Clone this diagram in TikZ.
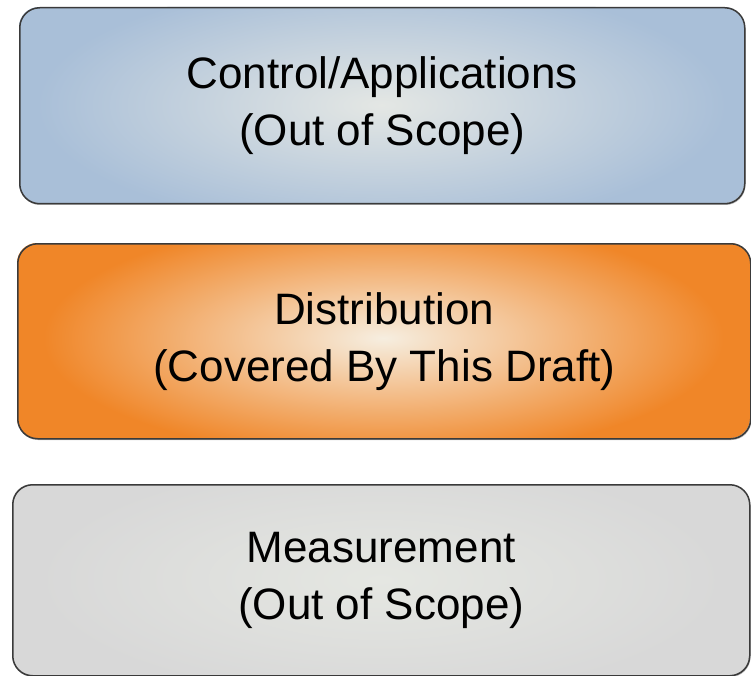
\documentclass[tikz,border=0pt]{standalone}
\usepackage{fontspec}
\setmainfont{Liberation Sans}

\definecolor{blueOut}{HTML}{A9BFD8}
\definecolor{blueIn}{HTML}{E4E7E4}
\definecolor{orOut}{HTML}{F08628}
\definecolor{orIn}{HTML}{F6EEE0}
\definecolor{grOut}{HTML}{D8D8D8}
\definecolor{grIn}{HTML}{E5E7E2}
\definecolor{rim}{HTML}{3A3A3A}

\tikzset{
  panel/.style={draw=rim, line width=1.5pt, rounded corners=20pt, inner sep=0pt,
    anchor=north west, align=center, font=\fontsize{44}{57}\selectfont, text=black},
  panelshadow/.style={fill=black, opacity=0.28, rounded corners=20pt},
}

\begin{document}
\begin{tikzpicture}[x=1pt,y=-1pt]
\useasboundingbox (0,0) rectangle (751,676);

% ---- upper panel: control / applications ----
\fill[panelshadow] (20,9) rectangle (745.5,205);
\begin{scope}
  \clip[rounded corners=20pt] (19,7) rectangle (744,203);
  \fill[blueOut] (19,7) rectangle (744,203);
  \shade[inner color=blueIn, outer color=blueOut] (381.5,105) ellipse (345pt and 125pt);
\end{scope}
\node[panel, minimum width=725pt, minimum height=196pt] (ctrl) at (19,7)
  {Control/Applications\\(Out of Scope)};

% ---- middle panel: distribution ----
\fill[panelshadow] (18,245) rectangle (751.5,440);
\begin{scope}
  \clip[rounded corners=20pt] (17,243) rectangle (750,438);
  \fill[orOut] (17,243) rectangle (750,438);
  \shade[inner color=orIn, outer color=orOut] (383.5,338) ellipse (340pt and 120pt);
\end{scope}
\node[panel, minimum width=733pt, minimum height=195pt] (dist) at (17,243)
  {Distribution\\(Covered By This Draft)};

% ---- lower panel: measurement ----
\fill[panelshadow] (13,486) rectangle (750.5,677);
\begin{scope}
  \clip[rounded corners=20pt] (12,484) rectangle (749,675);
  \fill[grOut] (12,484) rectangle (749,675);
  \shade[inner color=grIn, outer color=grOut] (380.5,579.5) ellipse (345pt and 120pt);
\end{scope}
\node[panel, minimum width=737pt, minimum height=191pt] (meas) at (12,484)
  {Measurement\\(Out of Scope)};
\end{tikzpicture}
\end{document}
